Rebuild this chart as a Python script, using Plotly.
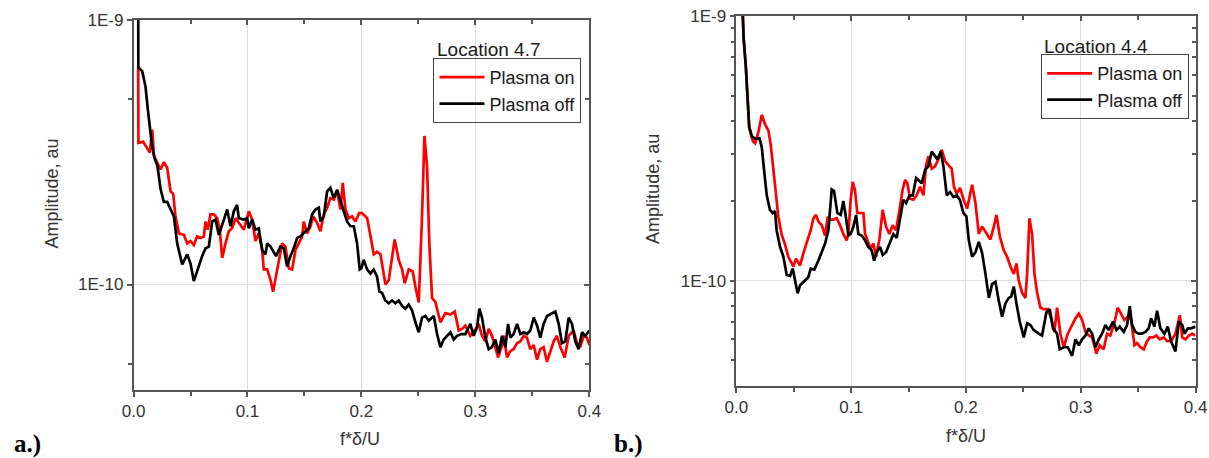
import plotly.graph_objects as go

# Spectra: (f*delta/U, amplitude in units of 1E-10 au)
loc47_plasma_on = [
    (0.0041, 6.7), (0.0043, 3.43), (0.0085, 3.46), (0.0120, 3.28), (0.0143, 3.15), (0.0164, 3.85),
    (0.0180, 3.05), (0.0208, 2.88), (0.0237, 2.72), (0.0266, 2.9), (0.0295, 2.76), (0.0325, 2.25),
    (0.0348, 2.2), (0.0368, 1.81), (0.0398, 1.56), (0.0442, 1.54), (0.0471, 1.43), (0.0500, 1.46),
    (0.0529, 1.41), (0.0558, 1.52), (0.0588, 1.50), (0.0617, 1.52), (0.0632, 1.73), (0.0652, 1.61),
    (0.0675, 1.84), (0.0705, 1.84), (0.0734, 1.78), (0.0757, 1.61), (0.0778, 1.26), (0.0807, 1.43),
    (0.0836, 1.59), (0.0865, 1.63), (0.0895, 1.78), (0.0924, 1.71), (0.0968, 1.61), (0.1012, 1.89),
    (0.1041, 1.76), (0.1070, 1.46), (0.1099, 1.56), (0.1129, 1.35), (0.1143, 1.14), (0.1173, 1.14),
    (0.1202, 1.04), (0.1225, 0.94), (0.1260, 1.14), (0.1304, 1.43), (0.1333, 1.39), (0.1363, 1.15),
    (0.1392, 1.14), (0.1421, 1.35), (0.1450, 1.43), (0.1480, 1.52), (0.1494, 1.73), (0.1523, 1.56),
    (0.1553, 1.66), (0.1576, 1.81), (0.1611, 1.71), (0.1640, 1.59), (0.1670, 1.84), (0.1699, 1.95),
    (0.1728, 2.12), (0.1757, 2.09), (0.1787, 2.25), (0.1816, 1.92), (0.1836, 2.42), (0.1860, 1.92),
    (0.1889, 1.78), (0.1918, 1.81), (0.1947, 1.73), (0.1980, 1.86), (0.2006, 1.86), (0.2050, 1.78),
    (0.2080, 1.52), (0.2108, 1.30), (0.2137, 1.33), (0.2167, 1.30), (0.2211, 1.00), (0.2240, 1.04),
    (0.2292, 1.48), (0.2327, 1.24), (0.2357, 1.14), (0.2380, 1.01), (0.2415, 1.14), (0.2450, 1.12),
    (0.2474, 0.98), (0.2503, 0.855), (0.2532, 1.81), (0.2553, 3.64), (0.2576, 2.80), (0.2596, 1.43),
    (0.2620, 0.89), (0.2649, 0.86), (0.2693, 0.72), (0.2737, 0.78), (0.2781, 0.77), (0.2819, 0.79),
    (0.2854, 0.67), (0.2883, 0.68), (0.2912, 0.70), (0.2956, 0.64), (0.2985, 0.66), (0.3029, 0.71),
    (0.3058, 0.64), (0.3088, 0.61), (0.3117, 0.68), (0.3146, 0.64), (0.3170, 0.59), (0.3199, 0.53),
    (0.3234, 0.59), (0.3249, 0.64), (0.3278, 0.53), (0.3307, 0.56), (0.3336, 0.57), (0.3366, 0.60),
    (0.3395, 0.61), (0.3424, 0.64), (0.3453, 0.63), (0.3482, 0.57), (0.3512, 0.59), (0.3541, 0.52),
    (0.3570, 0.57), (0.3599, 0.58), (0.3629, 0.51), (0.3658, 0.56), (0.3687, 0.61), (0.3716, 0.64),
    (0.3746, 0.58), (0.3784, 0.53), (0.3819, 0.64), (0.3863, 0.67), (0.3892, 0.60), (0.3921, 0.58),
    (0.3950, 0.64), (0.3980, 0.63), (0.4000, 0.59),
]

loc47_plasma_off = [
    (0.0041, 14.0), (0.0042, 6.6), (0.0076, 6.4), (0.0105, 5.6), (0.0125, 4.6), (0.0145, 3.9),
    (0.0164, 3.3), (0.0185, 3.0), (0.0210, 2.8), (0.0237, 2.3), (0.0266, 2.05), (0.0295, 2.05),
    (0.0325, 1.92), (0.0354, 1.81), (0.0383, 1.43), (0.0427, 1.19), (0.0471, 1.30), (0.0500, 1.20),
    (0.0529, 1.03), (0.0573, 1.19), (0.0602, 1.28), (0.0632, 1.37), (0.0661, 1.39), (0.0690, 1.73),
    (0.0719, 1.76), (0.0749, 1.54), (0.0778, 1.68), (0.0822, 1.92), (0.0851, 1.66), (0.0880, 1.89),
    (0.0909, 2.00), (0.0924, 1.78), (0.0968, 1.76), (0.0997, 1.78), (0.1012, 1.63), (0.1041, 1.76),
    (0.1070, 1.61), (0.1099, 1.63), (0.1129, 1.35), (0.1158, 1.30), (0.1173, 1.43), (0.1202, 1.39),
    (0.1251, 1.28), (0.1289, 1.39), (0.1319, 1.37), (0.1348, 1.17), (0.1377, 1.28), (0.1406, 1.37),
    (0.1436, 1.50), (0.1465, 1.52), (0.1509, 1.59), (0.1538, 1.63), (0.1567, 1.84), (0.1596, 1.92),
    (0.1626, 1.95), (0.1640, 1.73), (0.1670, 1.81), (0.1699, 2.25), (0.1728, 2.32), (0.1757, 2.12),
    (0.1787, 2.28), (0.1816, 2.06), (0.1845, 1.89), (0.1874, 1.73), (0.1904, 1.66), (0.1933, 1.66),
    (0.1962, 1.43), (0.1985, 1.14), (0.2000, 1.15), (0.2020, 1.24), (0.2050, 1.14), (0.2079, 1.10),
    (0.2108, 1.14), (0.2137, 1.07), (0.2158, 0.94), (0.2181, 0.93), (0.2210, 0.87), (0.2240, 0.85),
    (0.2269, 0.87), (0.2298, 0.85), (0.2327, 0.87), (0.2357, 0.83), (0.2386, 0.81), (0.2415, 0.84),
    (0.2444, 0.80), (0.2474, 0.72), (0.2503, 0.66), (0.2532, 0.75), (0.2561, 0.76), (0.2591, 0.73),
    (0.2635, 0.76), (0.2664, 0.65), (0.2693, 0.58), (0.2722, 0.62), (0.2751, 0.64), (0.2781, 0.66),
    (0.2810, 0.62), (0.2839, 0.64), (0.2877, 0.65), (0.2912, 0.65), (0.2956, 0.71), (0.2985, 0.64),
    (0.3015, 0.69), (0.3035, 0.81), (0.3058, 0.75), (0.3088, 0.63), (0.3117, 0.57), (0.3146, 0.58),
    (0.3175, 0.62), (0.3205, 0.55), (0.3234, 0.64), (0.3263, 0.58), (0.3287, 0.71), (0.3307, 0.63),
    (0.3336, 0.65), (0.3366, 0.71), (0.3395, 0.65), (0.3424, 0.66), (0.3453, 0.65), (0.3482, 0.67),
    (0.3512, 0.75), (0.3541, 0.70), (0.3570, 0.63), (0.3599, 0.71), (0.3629, 0.76), (0.3658, 0.77),
    (0.3702, 0.79), (0.3731, 0.71), (0.3760, 0.60), (0.3789, 0.61), (0.3819, 0.75), (0.3848, 0.71),
    (0.3877, 0.61), (0.3906, 0.57), (0.3936, 0.66), (0.3965, 0.64), (0.4000, 0.67),
]

loc44_plasma_on = [
    (0.0045, 14.0), (0.0063, 8.3), (0.0083, 6.4), (0.0100, 4.8), (0.0112, 3.8), (0.0135, 3.45),
    (0.0148, 3.35), (0.0164, 3.3), (0.0193, 3.65), (0.0222, 4.23), (0.0250, 3.9), (0.0280, 3.68),
    (0.0300, 3.25), (0.0322, 2.65), (0.0343, 2.2), (0.0366, 1.74), (0.0395, 1.49), (0.0424, 1.37),
    (0.0453, 1.23), (0.0497, 1.13), (0.0520, 1.21), (0.0555, 1.14), (0.0584, 1.27), (0.0613, 1.40),
    (0.0648, 1.55), (0.0671, 1.72), (0.0694, 1.77), (0.0715, 1.67), (0.0744, 1.62), (0.0773, 1.48),
    (0.0796, 1.74), (0.0816, 1.70), (0.0845, 1.70), (0.0874, 1.72), (0.0903, 1.62), (0.0932, 1.50),
    (0.0961, 1.42), (0.0976, 1.50), (0.0996, 2.02), (0.1014, 2.36), (0.1034, 2.19), (0.1054, 1.80),
    (0.1078, 1.80), (0.1107, 1.80), (0.1121, 1.50), (0.1150, 1.38), (0.1171, 1.32), (0.1194, 1.38),
    (0.1217, 1.23), (0.1246, 1.43), (0.1275, 1.85), (0.1304, 1.60), (0.1333, 1.50), (0.1362, 1.62),
    (0.1391, 1.55), (0.1426, 1.90), (0.1449, 2.21), (0.1470, 2.40), (0.1490, 2.33), (0.1513, 2.04),
    (0.1542, 2.02), (0.1571, 2.10), (0.1600, 2.26), (0.1630, 2.10), (0.1653, 2.73), (0.1673, 2.95),
    (0.1702, 2.65), (0.1731, 2.70), (0.1760, 2.87), (0.1789, 3.12), (0.1818, 2.83), (0.1847, 2.73),
    (0.1876, 2.65), (0.1896, 2.26), (0.1920, 2.13), (0.1949, 2.24), (0.1980, 2.02), (0.2010, 1.87),
    (0.2054, 2.30), (0.2083, 1.96), (0.2112, 1.50), (0.2141, 1.60), (0.2170, 1.53), (0.2213, 1.43),
    (0.2243, 1.60), (0.2266, 1.77), (0.2295, 1.47), (0.2330, 1.30), (0.2359, 1.23), (0.2388, 1.13),
    (0.2417, 1.06), (0.2440, 1.16), (0.2460, 1.00), (0.2489, 0.90), (0.2518, 0.86), (0.2533, 1.06),
    (0.2553, 1.72), (0.2576, 1.50), (0.2597, 1.06), (0.2620, 0.90), (0.2649, 0.79), (0.2678, 0.78),
    (0.2713, 0.78), (0.2742, 0.72), (0.2771, 0.64), (0.2794, 0.79), (0.2823, 0.63), (0.2852, 0.56),
    (0.2887, 0.63), (0.2925, 0.68), (0.2954, 0.72), (0.2983, 0.75), (0.3012, 0.71), (0.3041, 0.64),
    (0.3070, 0.62), (0.3099, 0.61), (0.3137, 0.53), (0.3166, 0.57), (0.3200, 0.55), (0.3229, 0.63),
    (0.3258, 0.62), (0.3293, 0.69), (0.3322, 0.79), (0.3351, 0.75), (0.3380, 0.71), (0.3409, 0.73),
    (0.3439, 0.71), (0.3468, 0.57), (0.3491, 0.58), (0.3520, 0.56), (0.3549, 0.55), (0.3578, 0.59),
    (0.3601, 0.61), (0.3630, 0.61), (0.3659, 0.62), (0.3688, 0.60), (0.3723, 0.61), (0.3753, 0.59),
    (0.3787, 0.59), (0.3825, 0.63), (0.3863, 0.74), (0.3884, 0.61), (0.3913, 0.60), (0.3942, 0.62),
    (0.3971, 0.63), (0.4000, 0.62),
]

loc44_plasma_off = [
    (0.0045, 14.0), (0.0063, 8.3), (0.0083, 6.4), (0.0100, 4.8), (0.0112, 3.8), (0.0135, 3.52),
    (0.0164, 3.43), (0.0202, 3.45), (0.0222, 3.18), (0.0245, 2.53), (0.0265, 2.1), (0.0293, 1.85),
    (0.0317, 1.80), (0.0337, 1.83), (0.0351, 1.55), (0.0381, 1.34), (0.0410, 1.23), (0.0439, 1.05),
    (0.0468, 1.04), (0.0491, 1.11), (0.0511, 1.00), (0.0534, 0.895), (0.0555, 0.96), (0.0598, 1.00),
    (0.0627, 1.03), (0.0648, 1.11), (0.0680, 1.10), (0.0715, 1.19), (0.0744, 1.29), (0.0773, 1.38),
    (0.0802, 1.55), (0.0831, 2.21), (0.0851, 2.18), (0.0880, 1.80), (0.0909, 1.77), (0.0932, 2.00),
    (0.0956, 1.72), (0.0976, 1.48), (0.0996, 1.50), (0.1020, 1.60), (0.1043, 1.77), (0.1063, 1.50),
    (0.1092, 1.48), (0.1121, 1.42), (0.1150, 1.34), (0.1179, 1.30), (0.1200, 1.19), (0.1223, 1.28),
    (0.1252, 1.34), (0.1275, 1.25), (0.1304, 1.28), (0.1339, 1.40), (0.1368, 1.50), (0.1397, 1.45),
    (0.1420, 1.65), (0.1455, 2.02), (0.1479, 1.96), (0.1508, 2.10), (0.1537, 2.10), (0.1566, 2.44),
    (0.1586, 2.40), (0.1615, 2.33), (0.1644, 2.62), (0.1673, 2.70), (0.1702, 3.07), (0.1731, 2.95),
    (0.1752, 2.87), (0.1781, 3.07), (0.1804, 2.70), (0.1833, 2.10), (0.1862, 2.16), (0.1891, 2.07),
    (0.1920, 2.10), (0.1949, 2.01), (0.1978, 1.80), (0.2004, 1.75), (0.2025, 1.42), (0.2054, 1.23),
    (0.2083, 1.28), (0.2112, 1.40), (0.2141, 1.27), (0.2170, 1.06), (0.2200, 0.86), (0.2228, 0.97),
    (0.2257, 0.99), (0.2286, 0.84), (0.2315, 0.73), (0.2344, 0.82), (0.2373, 0.86), (0.2394, 0.87),
    (0.2417, 0.95), (0.2440, 0.82), (0.2469, 0.70), (0.2504, 0.61), (0.2533, 0.69), (0.2562, 0.68),
    (0.2591, 0.65), (0.2634, 0.63), (0.2663, 0.62), (0.2701, 0.76), (0.2730, 0.78), (0.2759, 0.66),
    (0.2794, 0.63), (0.2817, 0.55), (0.2852, 0.56), (0.2887, 0.56), (0.2925, 0.52), (0.2954, 0.60),
    (0.2983, 0.57), (0.3012, 0.60), (0.3041, 0.62), (0.3070, 0.66), (0.3099, 0.63), (0.3128, 0.56),
    (0.3157, 0.60), (0.3186, 0.63), (0.3215, 0.68), (0.3244, 0.65), (0.3282, 0.70), (0.3311, 0.65),
    (0.3340, 0.67), (0.3375, 0.64), (0.3404, 0.68), (0.3427, 0.80), (0.3447, 0.68), (0.3476, 0.64),
    (0.3505, 0.63), (0.3534, 0.63), (0.3563, 0.64), (0.3592, 0.66), (0.3613, 0.72), (0.3642, 0.67),
    (0.3665, 0.77), (0.3694, 0.66), (0.3729, 0.63), (0.3758, 0.67), (0.3787, 0.59), (0.3825, 0.54),
    (0.3855, 0.70), (0.3884, 0.68), (0.3904, 0.63), (0.3933, 0.66), (0.3962, 0.66), (0.4000, 0.67),
]

UNIT = 1e-10  # amplitudes above are stored in units of 1E-10 au

x_tickvals = [0.0, 0.1, 0.2, 0.3, 0.4]
x_ticktext = ["0.0", "0.1", "0.2", "0.3", "0.4"]
x_minor = [0.05, 0.15, 0.25, 0.35]
y_tickvals = [1e-10, 1e-9]
y_ticktext = ["1E-10", "1E-9"]
y_minor_a = [5e-11, 5e-10]
y_minor_b = [m * d for d in (1e-11, 1e-10) for m in (5, 6, 7, 8, 9)] + \
            [m * 1e-10 for m in (2, 3, 4)]

panels = [
    ("Location 4.7", loc47_plasma_on, loc47_plasma_off, "a.)", y_minor_a),
    ("Location 4.4", loc44_plasma_on, loc44_plasma_off, "b.)", y_minor_b),
]

W, H = 1209, 458
SANS = "Liberation Sans, Arial, sans-serif"
AX = "#555555"
TXT = "#333333"
TICK_SIZE = 17
Y_RANGE = [-10.398, -9.0]


def px_x(p):
    return p / W


def px_y(p):
    return 1 - p / H


# plot areas in figure pixels: (left, right, top, bottom)
boxes = [(124, 589, 11, 388.5), (739, 1207.5, 7, 384.5)]

fig = go.Figure()

for i, (loc, on, off, tag, _) in enumerate(panels):
    sfx = "" if i == 0 else "2"
    leg = "legend" if i == 0 else "legend2"
    for name, series, color in (("Plasma on", on, "#ff0000"), ("Plasma off", off, "#000000")):
        fig.add_trace(go.Scatter(
            x=[p[0] for p in series],
            y=[p[1] * UNIT for p in series],
            mode="lines", name=name,
            line=dict(color=color, width=2.7),
            xaxis="x" + sfx, yaxis="y" + sfx, legend=leg,
        ))

layout = dict(
    width=W, height=H,
    margin=dict(l=0, r=0, t=0, b=0),
    paper_bgcolor="white", plot_bgcolor="white",
    showlegend=True,
    font=dict(family=SANS, color=TXT, size=TICK_SIZE),
)

tick_common = dict(tickwidth=1.5, tickcolor=AX)

for i, (l, r, t, b) in enumerate(boxes):
    sfx = "" if i == 0 else "2"
    top = "x3" if i == 0 else "x4"
    right = "y3" if i == 0 else "y4"
    y_minor = panels[i][4]
    layout["xaxis" + sfx] = dict(
        domain=[px_x(l), px_x(r)], range=[0, 0.4], anchor="y" + sfx,
        tickmode="array", tickvals=x_tickvals, ticktext=x_ticktext,
        ticks="outside", ticklen=5, **tick_common,
        showline=True, linecolor=AX, linewidth=1.5, mirror=True,
        showgrid=True, gridcolor="#dedede", gridwidth=1, zeroline=False,
        tickfont=dict(family=SANS, size=TICK_SIZE, color=TXT),
        minor=dict(tickmode="array", tickvals=x_minor, ticks="outside",
                   ticklen=4, showgrid=False, **tick_common),
    )
    layout["yaxis" + sfx] = dict(
        domain=[px_y(b), px_y(t)], type="log", range=Y_RANGE, anchor="x" + sfx,
        tickmode="array", tickvals=y_tickvals, ticktext=y_ticktext,
        ticks="outside", ticklen=5, **tick_common,
        showline=True, linecolor=AX, linewidth=1.5, mirror=True,
        showgrid=True, gridcolor="#dedede", gridwidth=1, zeroline=False,
        tickfont=dict(family=SANS, size=TICK_SIZE, color=TXT),
        minor=dict(tickmode="array", tickvals=y_minor, ticks="outside",
                   ticklen=4, showgrid=False, **tick_common),
    )
    # tick marks on the top and right frame edges point into the plot
    layout["xaxis" + top[1:]] = dict(
        overlaying="x" + sfx, anchor="y" + sfx, side="top",
        range=[0, 0.4], showgrid=False, zeroline=False, showline=False,
        showticklabels=False, tickmode="array", tickvals=x_tickvals,
        ticks="inside", ticklen=5, **tick_common,
        minor=dict(tickmode="array", tickvals=x_minor, ticks="inside",
                   ticklen=4, showgrid=False, **tick_common),
    )
    layout["yaxis" + right[1:]] = dict(
        overlaying="y" + sfx, anchor="x" + sfx, side="right",
        type="log", range=Y_RANGE, showgrid=False, zeroline=False, showline=False,
        showticklabels=False, tickmode="array", tickvals=y_tickvals,
        ticks="inside", ticklen=5, **tick_common,
        minor=dict(tickmode="array", tickvals=y_minor, ticks="inside",
                   ticklen=4, showgrid=False, **tick_common),
    )
    # empty series so the frame-tick axes get a subplot of their own
    fig.add_trace(go.Scatter(x=[], y=[], xaxis=top, yaxis=right,
                             showlegend=False, hoverinfo="skip"))

legend_pos = [(430, 50), (1050, 46)]
for i, (lx, ly) in enumerate(legend_pos):
    key = "legend" if i == 0 else "legend2"
    layout[key] = dict(
        x=px_x(lx), y=px_y(ly), xanchor="left", yanchor="top",
        bgcolor="rgba(255,255,255,0)", bordercolor="#444444", borderwidth=1,
        font=dict(family=SANS, size=18, color="#1a1a1a"),
        tracegroupgap=0, itemwidth=45,
    )

annotations = []
# legend headings
for (x, y), panel in zip([(432, 41), (1051, 38)], panels):
    annotations.append(dict(text=panel[0], x=px_x(x), y=px_y(y), xref="paper", yref="paper",
                            xanchor="left", yanchor="middle", showarrow=False,
                            font=dict(family=SANS, size=19, color="#1a1a1a")))
# axis titles
for x, y in [(41, 188), (654.5, 184)]:
    annotations.append(dict(text="Amplitude, au", x=px_x(x), y=px_y(y), xref="paper", yref="paper",
                            xanchor="center", yanchor="middle", textangle=-90, showarrow=False,
                            font=dict(family=SANS, size=18, color=TXT)))
for x, y in [(355.5, 438.5), (973, 435.5)]:
    annotations.append(dict(text="f*δ/U", x=px_x(x), y=px_y(y), xref="paper", yref="paper",
                            xanchor="center", yanchor="middle", showarrow=False,
                            font=dict(family=SANS, size=18, color=TXT)))
# panel tags
for x, panel in zip([0, 612], panels):
    annotations.append(dict(text="<b>%s</b>" % panel[3], x=px_x(x), y=px_y(444),
                            xref="paper", yref="paper",
                            xanchor="left", yanchor="middle", showarrow=False,
                            font=dict(family="Liberation Serif, Times New Roman, serif",
                                      size=25, color="#000000")))
layout["annotations"] = annotations

fig.update_layout(**layout)
fig.write_html("out.html")
